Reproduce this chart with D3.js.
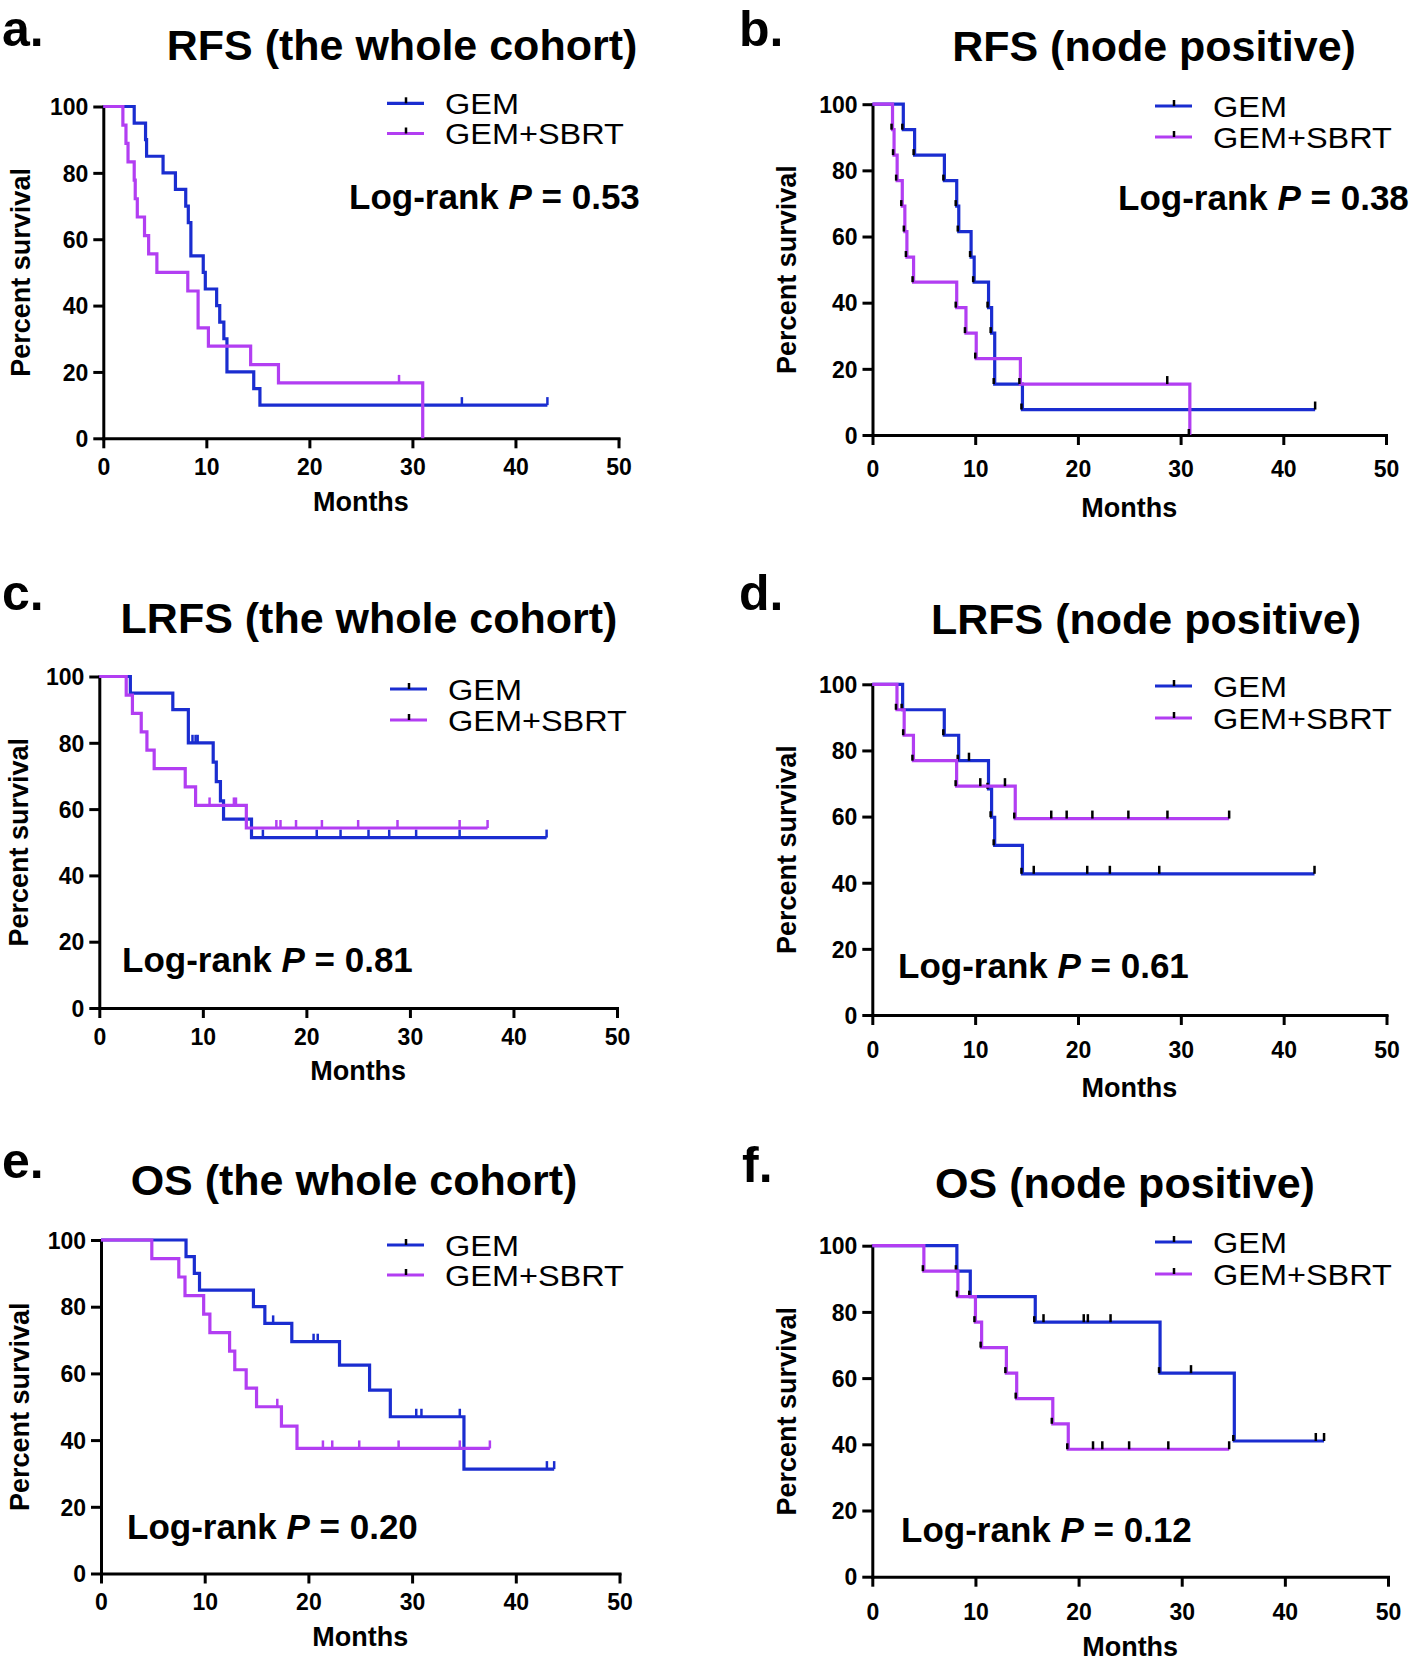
<!DOCTYPE html>
<html><head><meta charset="utf-8">
<script src="https://cdn.jsdelivr.net/npm/d3@7"></script>
<style>
body{margin:0;background:#fff}
svg{display:block}
text{font-family:"Liberation Sans",Arial,sans-serif;fill:#000}
</style>
</head><body>
<svg id="chart" width="1416" height="1662"></svg>
<script>
// ---------- data ----------
const monthTicks = [0, 10, 20, 30, 40, 50];
const pctTicks = [0, 20, 40, 60, 80, 100];
const seriesNames = ["GEM", "GEM+SBRT"];
const panelLetters = ["a.", "b.", "c.", "d.", "e.", "f."];
const panelTitles = ["RFS (the whole cohort)", "RFS (node positive)", "LRFS (the whole cohort)",
                     "LRFS (node positive)", "OS (the whole cohort)", "OS (node positive)"];
const pValues = ["0.53", "0.38", "0.81", "0.61", "0.20", "0.12"];

// events: [month, percent survival after the drop]; censor: months of censored ticks
const rfsAllGem = [[3.0,95],[4.1,90],[4.2,85],[5.8,80],[7.0,75],[8.0,70],[8.25,65],[8.5,55],[9.7,50],[9.9,45],[11.0,40],[11.3,35],[11.7,30],[12.0,20],[14.6,15],[15.2,10]];
const rfsAllGemCens = [34.8, 43.1];
const rfsAllSbrt = [[1.9,94.4],[2.2,88.9],[2.4,83.3],[3.0,77.8],[3.1,72.2],[3.3,66.7],[4.0,61.1],[4.4,55.6],[5.2,50],[8.2,44.4],[9.2,33.3],[10.2,27.8],[14.3,22.2],[17.0,16.7],[31.0,0]];
const rfsAllSbrtCens = [28.7];

const rfsNodeGem = [[3.0,92.3],[4.1,84.6],[7.0,76.9],[8.2,69.2],[8.4,61.5],[9.6,53.8],[9.9,46.2],[11.3,38.5],[11.6,30.8],[11.9,15.4],[14.6,7.7]];
const rfsNodeGemCens = [43.1];
const rfsNodeSbrt = [[1.95,92.3],[2.1,84.6],[2.4,76.9],[2.9,69.2],[3.15,61.5],[3.35,53.8],[4.0,46.2],[8.2,38.5],[9.1,30.8],[10.1,23.1],[14.4,15.4],[30.9,0]];
const rfsNodeSbrtCens = [28.7];

const lrfsAllGem = [[3.0,95],[7.1,90],[8.6,80],[11.0,74.2],[11.3,68.3],[11.7,62.5],[12.0,57.0],[14.7,51.4]];
const lrfsAllGemCens = [9.0, 9.3, 9.5, 15.8, 21.0, 23.3, 26.0, 28.0, 30.6, 34.8, 43.2];
const lrfsAllSbrt = [[2.6,94.4],[3.2,88.9],[4.05,83.3],[4.6,77.8],[5.3,72.2],[8.3,66.7],[9.3,61.1],[14.2,54.3]];
const lrfsAllSbrtCens = [10.65, 13.0, 13.2, 17.1, 17.5, 19.0, 21.5, 25.0, 28.8, 34.8, 37.5];

const lrfsNodeGem = [[2.95,92.3],[7.0,84.6],[8.4,76.9],[11.3,68.4],[11.6,59.8],[11.9,51.3],[14.6,42.7]];
const lrfsNodeGemCens = [9.4, 15.7, 20.9, 23.1, 27.9, 43.0];
const lrfsNodeSbrt = [[2.4,92.3],[3.1,84.6],[4.0,76.9],[8.2,69.2],[13.9,59.4]];
const lrfsNodeSbrtCens = [10.5, 12.9, 17.4, 18.9, 21.4, 24.9, 28.7, 34.7];

const osAllGem = [[8.2,95],[9.0,90],[9.5,85],[14.7,80],[15.8,75],[18.4,69.5],[23.0,62.5],[25.9,55],[27.9,47],[35.0,31.3]];
const osAllGemCens = [16.6, 20.5, 20.9, 30.4, 30.9, 34.6, 43.0, 43.7];
const osAllSbrt = [[4.9,94.4],[7.5,88.9],[8.1,83.3],[9.9,77.8],[10.5,72.2],[12.4,66.7],[12.9,61.1],[14.0,55.6],[15.0,50],[17.4,44.2],[18.9,37.5]];
const osAllSbrtCens = [17.0, 21.4, 22.3, 24.9, 28.7, 34.6, 37.5];

const osNodeGem = [[8.2,92.3],[9.5,84.6],[15.8,76.9],[27.9,61.5],[35.1,41.0]];
const osNodeGemCens = [16.6, 20.5, 20.9, 23.1, 30.9, 43.0, 43.8];
const osNodeSbrt = [[5.0,92.3],[8.3,84.6],[10.0,76.9],[10.6,69.2],[13.0,61.5],[14.0,53.8],[17.5,46.2],[19.0,38.5]];
const osNodeSbrtCens = [21.4, 22.3, 24.9, 28.7, 34.6];

const panelSeries = [
  [[rfsAllGem, rfsAllGemCens], [rfsAllSbrt, rfsAllSbrtCens]],
  [[rfsNodeGem, rfsNodeGemCens], [rfsNodeSbrt, rfsNodeSbrtCens]],
  [[lrfsAllGem, lrfsAllGemCens], [lrfsAllSbrt, lrfsAllSbrtCens]],
  [[lrfsNodeGem, lrfsNodeGemCens], [lrfsNodeSbrt, lrfsNodeSbrtCens]],
  [[osAllGem, osAllGemCens], [osAllSbrt, osAllSbrtCens]],
  [[osNodeGem, osNodeGemCens], [osNodeSbrt, osNodeSbrtCens]]
];

// ---------- layout ----------
const COLORS = ["#1a2dd0", "#b23ef2"];
const layouts = [
  {x0:103.3, x1:618.5, yTop:106.5, yBot:438.3, titleX:402, titleY:60, letterX:2, letterY:46, legX:387, legY:[103.3,133.5], pX:349, pY:209, tickOff:37, monthsOff:73, ylabX:30, black:false},
  {x0:872.5, x1:1386, yTop:104.2, yBot:435, titleX:1154, titleY:61, letterX:739, letterY:46, legX:1155, legY:[106,137], pX:1118, pY:210, tickOff:42, monthsOff:82, ylabX:796, black:true},
  {x0:99.3, x1:617, yTop:676.5, yBot:1008, titleX:369, titleY:633, letterX:2, letterY:610, legX:390, legY:[689,720], pX:122, pY:972, tickOff:37, monthsOff:72, ylabX:28, black:false},
  {x0:872.3, x1:1386.5, yTop:684.3, yBot:1015, titleX:1146, titleY:634, letterX:739, letterY:610, legX:1155, legY:[686,718], pX:898, pY:978, tickOff:43, monthsOff:82, ylabX:796, black:true},
  {x0:101, x1:619.5, yTop:1240, yBot:1573.5, titleX:354, titleY:1195, letterX:2, letterY:1178, legX:387, legY:[1245,1275], pX:127, pY:1539, tickOff:36, monthsOff:72, ylabX:29, black:false},
  {x0:872.3, x1:1388, yTop:1245.7, yBot:1576.7, titleX:1125, titleY:1198, letterX:742, letterY:1182, legX:1155, legY:[1242,1274], pX:901, pY:1542, tickOff:43, monthsOff:79, ylabX:796, black:true}
];

const svg = d3.select("#chart");
svg.append("rect").attr("width",1416).attr("height",1662).attr("fill","#fff");

function levelAt(events, t){ let s = 100; for (const [et,v] of events) if (et <= t) s = v; return s; }

panelSeries.forEach((series, i) => {
  const L = layouts[i];
  const x = d3.scaleLinear().domain([0,50]).range([L.x0, L.x1]);
  const y = d3.scaleLinear().domain([0,100]).range([L.yBot, L.yTop]);
  const g = svg.append("g");

  // letter and title
  g.append("text").attr("x", L.letterX).attr("y", L.letterY)
    .style("font-weight", "700").style("font-size", "50px")
    .text(panelLetters[i]);
  g.append("text").attr("x", L.titleX).attr("y", L.titleY).attr("text-anchor","middle")
    .style("font-weight","700").style("font-size","43px").text(panelTitles[i]);

  // axes
  const yAxis = d3.axisLeft(y).tickValues(pctTicks).tickSize(10).tickSizeOuter(0).tickPadding(5);
  const xAxis = d3.axisBottom(x).tickValues(monthTicks).tickSize(10).tickSizeOuter(0).tickPadding(5);
  const ya = g.append("g").attr("transform", `translate(${L.x0},0)`).call(yAxis);
  const xa = g.append("g").attr("transform", `translate(0,${L.yBot})`).call(xAxis);
  [ya, xa].forEach(a => {
    a.select(".domain").attr("stroke","#000").attr("stroke-width",3).attr("stroke-linecap","square");
    a.selectAll(".tick line").attr("stroke","#000").attr("stroke-width",3);
    a.selectAll(".tick text").style("font-family","'Liberation Sans',Arial,sans-serif")
      .style("font-weight","700").style("font-size","23px").attr("fill","#000");
  });
  ya.selectAll(".tick text").attr("x", -15).attr("dy","0.36em");
  xa.selectAll(".tick text").attr("y", L.tickOff).attr("dy", 0);

  g.append("text").attr("x", (L.x0+L.x1)/2).attr("y", L.yBot + L.monthsOff).attr("text-anchor","middle")
    .style("font-weight","700").style("font-size","27px").text("Months");
  g.append("text").attr("transform", `translate(${L.ylabX},${(L.yTop+L.yBot)/2}) rotate(-90)`)
    .attr("text-anchor","middle").style("font-weight","700").style("font-size","27px").text("Percent survival");

  // curves
  series.forEach(([events, cens], k) => {
    const color = COLORS[k];
    const pts = [[0,100]];
    let s = 100;
    events.forEach(([t,v]) => { pts.push([t,s]); pts.push([t,v]); s = v; });
    const end = Math.max(events[events.length-1][0], ...cens);
    if (end > events[events.length-1][0]) pts.push([end, s]);
    g.append("path").attr("d", d3.line().x(d=>x(d[0])).y(d=>y(d[1]))(pts))
      .attr("fill","none").attr("stroke",color).attr("stroke-width",3.2).attr("stroke-linejoin","miter");
    const tickColor = L.black ? "#000" : color;
    g.selectAll(null).data(cens).enter().append("line")
      .attr("x1", d=>x(d)).attr("x2", d=>x(d))
      .attr("y1", d=>y(levelAt(events,d))).attr("y2", d=>y(levelAt(events,d)) - 8)
      .attr("stroke", tickColor).attr("stroke-width", 2.5);
    if (L.black) {
      g.selectAll(null).data(events).enter().append("line")
        .attr("x1", d=>x(d[0]) - 1).attr("x2", d=>x(d[0]) - 1)
        .attr("y1", d=>y(d[1])).attr("y2", d=>y(d[1]) - 6)
        .attr("stroke", "#000").attr("stroke-width", 2.5);
    }
  });

  // legend
  seriesNames.forEach((name, k) => {
    const ly = L.legY[k];
    g.append("line").attr("x1", L.legX).attr("x2", L.legX + 37).attr("y1", ly).attr("y2", ly)
      .attr("stroke", COLORS[k]).attr("stroke-width", 3.2);
    g.append("line").attr("x1", L.legX + 19).attr("x2", L.legX + 19).attr("y1", ly).attr("y2", ly - 6)
      .attr("stroke", "#000").attr("stroke-width", 2.5);
    g.append("text").attr("transform", `translate(${L.legX + 58},${ly + 10.5}) scale(1.12,1)`)
      .style("font-size","29px").text(name);
  });

  // log-rank
  const pt = g.append("text").attr("x", L.pX).attr("y", L.pY)
    .style("font-weight","700").style("font-size","35px");
  pt.append("tspan").text("Log-rank ");
  pt.append("tspan").style("font-style","italic").text("P");
  pt.append("tspan").text(" = " + pValues[i]);
});
</script>
</body></html>
